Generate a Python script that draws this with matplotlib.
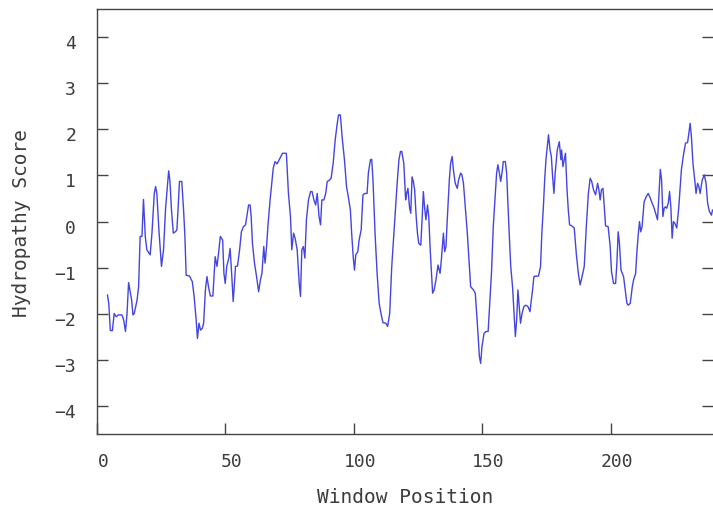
import matplotlib
matplotlib.use("Agg")
import matplotlib.pyplot as plt
import matplotlib.transforms as mtransforms

# window position / hydropathy score
positions = [
    4.1, 4.6, 5.2, 6.0, 6.7, 7.5, 8.3, 9.7, 10.4, 11.1, 11.7, 12.3, 13.0, 13.5,
    14.0, 14.5, 15.6, 16.2, 16.8, 17.5, 18.1, 18.8, 19.4, 20.7, 21.4, 22.3,
    22.8, 23.3, 24.1, 25.1, 25.9, 26.7, 27.5, 27.9, 28.4, 29.0, 29.7, 30.5,
    31.1, 31.6, 32.1, 33.0, 33.7, 34.2, 34.7, 36.0, 37.1, 37.8, 38.6, 39.1,
    39.7, 40.3, 41.0, 41.5, 42.2, 42.8, 43.4, 44.1, 45.1, 45.6, 46.0, 46.7,
    47.3, 48.0, 48.9, 49.4, 49.9, 50.5, 51.3, 51.8, 52.4, 53.0, 53.4, 53.9,
    54.7, 55.5, 56.2, 57.0, 57.8, 58.3, 59.0, 59.6, 60.0,
    60.5, 61.3, 62.1, 62.9, 63.6, 64.2, 64.9, 65.4, 66.0, 66.5, 67.3, 68.0,
    68.6, 69.3, 70.1, 70.9, 72.2, 73.7, 74.5, 75.3, 75.8, 76.5, 77.1, 77.9,
    78.7, 79.2, 79.7, 80.3, 80.9, 81.5, 82.3, 83.1, 83.7, 84.4, 85.1, 85.7,
    86.4, 87.0, 87.5, 88.3, 89.0, 89.6, 90.3, 91.1, 91.9, 92.7, 93.4, 94.0,
    94.7, 95.5, 96.3, 97.1, 97.8, 98.6, 99.1, 99.7, 100.2, 100.7, 101.5,
    102.0, 102.8, 103.5, 104.3, 105.1, 105.6, 106.4, 106.9, 107.4, 108.2,
    109.0, 109.8, 110.5, 111.3, 112.4, 113.1, 113.9, 114.7, 115.7, 116.8,
    117.5, 118.1, 118.6, 119.4, 120.1,
    120.5, 121.0, 121.6, 122.1, 122.6, 123.1, 123.6, 124.2, 124.7, 125.2,
    126.0, 126.5, 127.0, 127.5, 128.0, 128.6, 129.1, 129.6, 130.1, 130.6,
    131.2, 131.9, 132.7, 133.5, 134.0, 134.8, 135.3, 135.8, 136.3, 137.1,
    137.6, 138.2, 138.7, 139.4, 140.2, 140.7, 141.5, 142.0, 142.6, 143.3,
    144.1, 144.6, 145.4, 146.5, 147.2, 148.0, 148.8, 149.3, 149.8, 150.6,
    151.4, 152.2, 152.7, 153.5, 154.2, 155.0, 155.5, 156.0, 156.6, 157.1,
    157.6, 158.1, 158.9, 159.4, 159.9, 160.4, 161.0, 161.7, 162.3, 162.8,
    163.3, 163.8, 164.3, 164.8, 165.4, 166.1, 166.9, 167.7, 168.5, 169.0,
    169.5, 170.0, 170.8, 171.8, 172.6, 173.1, 173.7, 174.2, 174.7, 175.2,
    175.7, 176.3, 176.8, 177.3, 177.8, 178.3, 179.1, 179.9, 180.5,
    180.8, 181.3, 181.8, 182.3, 182.9, 183.4, 183.9, 184.7, 185.7, 186.5,
    187.3, 188.0, 188.8, 189.6, 190.4, 191.2, 191.9, 192.5, 193.2, 194.0,
    194.8, 195.3, 195.8, 196.3, 196.9, 197.4, 197.9, 198.9, 199.7, 200.2,
    201.0, 201.8, 202.3, 202.8, 203.3, 203.9, 204.4, 204.9, 205.4, 206.2,
    206.7, 207.5, 208.3, 208.8, 209.6, 210.1, 210.6, 211.1, 211.6, 212.1,
    212.9, 213.7, 214.5, 215.3, 216.0, 216.8, 217.6, 218.1, 218.6, 219.2,
    219.7, 220.2, 220.7, 221.2, 221.7, 222.3, 222.8, 223.3, 223.8, 224.3,
    224.9, 225.6, 226.4, 226.9, 227.4, 228.2, 229.0, 229.8, 230.3, 230.8,
    231.3, 231.9, 232.6, 233.1, 233.7, 234.2, 234.7, 235.5, 236.3, 237.0,
    237.6, 238.3, 239.1, 239.5,
]
scores = [
    -1.59, -1.78, -2.36, -2.36, -1.99, -2.06, -2.02, -2.02, -2.13, -2.38,
    -1.99, -1.32, -1.55, -1.70, -2.02, -1.99, -1.70, -1.41, -0.32, -0.32,
    0.48, -0.32, -0.61, -0.72, -0.25, 0.61, 0.76, 0.61, -0.18, -0.97,
    -0.61, 0.29, 0.83, 1.10, 0.87, 0.25, -0.25, -0.22, -0.18, 0.32,
    0.87, 0.87, 0.25, -0.29, -1.16, -1.18, -1.30, -1.62, -2.13, -2.53,
    -2.20, -2.35, -2.31, -2.20, -1.48, -1.19, -1.41, -1.61, -1.61, -1.12,
    -0.76, -0.97, -0.69, -0.32, -0.40, -1.12, -1.34, -0.97, -0.79, -0.58,
    -1.12, -1.73, -1.41, -0.97, -0.96, -0.61, -0.22, -0.11, -0.07, 0.11,
    0.36, 0.36, 0.11,
    -0.47, -0.90, -1.19, -1.52, -1.26, -1.12, -0.54, -0.90, -0.54, -0.11,
    0.43, 0.83, 1.16, 1.30, 1.25, 1.34, 1.48, 1.48, 0.61, 0.11,
    -0.61, -0.25, -0.36, -0.61, -1.34, -1.62, -0.61, -0.54, -0.79, 0.04,
    0.47, 0.65, 0.65, 0.47, 0.36, 0.61, 0.11, -0.07, 0.47, 0.47,
    0.61, 0.87, 0.89, 0.94, 1.26, 1.77, 2.09, 2.31, 2.31, 1.77,
    1.34, 0.76, 0.54, 0.25, -0.25, -0.76, -1.05, -0.72, -0.65, -0.40,
    -0.18, 0.58, 0.61, 0.61, 1.05, 1.34, 1.35, 0.90, -0.25, -1.12,
    -1.77, -1.99, -2.19, -2.20, -2.27, -1.99, -0.97, -0.11, 0.83, 1.34,
    1.52, 1.52, 1.26, 0.47,
    0.61, 0.72, 0.32, 0.18, 0.97, 0.87, 0.69, 0.11, -0.25, -0.47,
    -0.51, 0.04, 0.65, 0.29, 0.04, 0.36, 0.11, -0.54, -1.05, -1.55,
    -1.48, -1.26, -0.94, -1.12, -0.83, -0.25, -0.65, -0.54, 0.04, 0.90,
    1.26, 1.41, 1.12, 0.83, 0.72, 0.90, 1.05, 1.01, 0.83, 0.32,
    -0.25, -0.69, -1.41, -1.48, -1.55, -2.20, -2.92, -3.07, -2.71, -2.42,
    -2.38, -2.38, -1.91, -1.12, -0.11, 0.61, 1.05, 1.23, 1.05, 0.87,
    1.05, 1.30, 1.30, 1.05, 0.40, -0.25, -0.97, -1.41, -1.99, -2.49,
    -2.13, -1.48, -1.84, -2.20, -1.99, -1.84, -1.81, -1.84, -1.95, -1.70,
    -1.48, -1.19, -1.18, -1.18, -0.97, -0.25, 0.32, 0.90, 1.34, 1.62,
    1.88, 1.55, 1.41, 0.97, 0.61, 1.05, 1.55, 1.73, 1.34,
    1.55, 1.19, 1.34, 1.48, 0.69, 0.25, -0.07, -0.09, -0.14, -0.69,
    -1.12, -1.37, -1.18, -0.97, -0.11, 0.61, 0.94, 0.87, 0.69, 0.58,
    0.83, 0.69, 0.47, 0.69, 0.72, 0.32, -0.09, -0.11, -0.54, -1.08,
    -1.34, -1.34, -0.90, -0.22, -0.47, -1.05, -1.12, -1.19, -1.41, -1.77,
    -1.81, -1.77, -1.41, -1.26, -1.12, -0.65, -0.29, 0.00, -0.22, -0.11,
    0.43, 0.54, 0.61, 0.51, 0.40, 0.29, 0.14, 0.04, 0.51, 1.13,
    0.90, 0.11, 0.29, 0.32, 0.29, 0.40, 0.65, 0.32, -0.36, 0.00,
    -0.04, -0.14, 0.32, 0.72, 1.12, 1.44, 1.70, 1.71, 1.91, 2.13,
    1.84, 1.26, 0.90, 0.61, 0.83, 0.76, 0.61, 0.90, 1.01, 0.83,
    0.40, 0.22, 0.14, 0.25,
]
x_ticks = [0, 50, 100, 150, 200]
y_ticks = [-4, -3, -2, -1, 0, 1, 2, 3, 4]

plt.rcParams['font.family'] = ['DejaVu Sans Mono']

fig = plt.figure(figsize=(7.13, 5.10), dpi=100)
ax = fig.add_axes([0.136, 0.147, 0.864, 0.833])

ax.plot(positions, scores, color='#4444e0', linewidth=1.0)

ax.set_xlim(0, 239.7)
ax.set_ylim(-4.6, 4.6)
ax.set_xticks(x_ticks)
ax.set_yticks(y_ticks)

text_color = '#3c3c3c'
ax.tick_params(axis='both', direction='in', length=8, width=1,
               color='#444444', labelcolor=text_color, labelsize=13)
ax.tick_params(axis='x', pad=13)
ax.tick_params(axis='y', pad=15, right=True)

for side in ['left', 'bottom', 'top']:
    ax.spines[side].set_color('#444444')
    ax.spines[side].set_linewidth(1)
ax.spines['right'].set_visible(False)

# old plotting package puts labels slightly right of / below the tick
dx = mtransforms.ScaledTranslation(6 / 100, 0, fig.dpi_scale_trans)
for lab in ax.get_xticklabels():
    lab.set_transform(lab.get_transform() + dx)
dy = mtransforms.ScaledTranslation(0, -4 / 100, fig.dpi_scale_trans)
for lab in ax.get_yticklabels():
    lab.set_transform(lab.get_transform() + dy)

ax.set_xlabel('Window Position', fontsize=14, color=text_color, labelpad=12)
ax.set_ylabel('Hydropathy Score', fontsize=14, color=text_color, labelpad=17)

fig.savefig('out.png', dpi=100)
